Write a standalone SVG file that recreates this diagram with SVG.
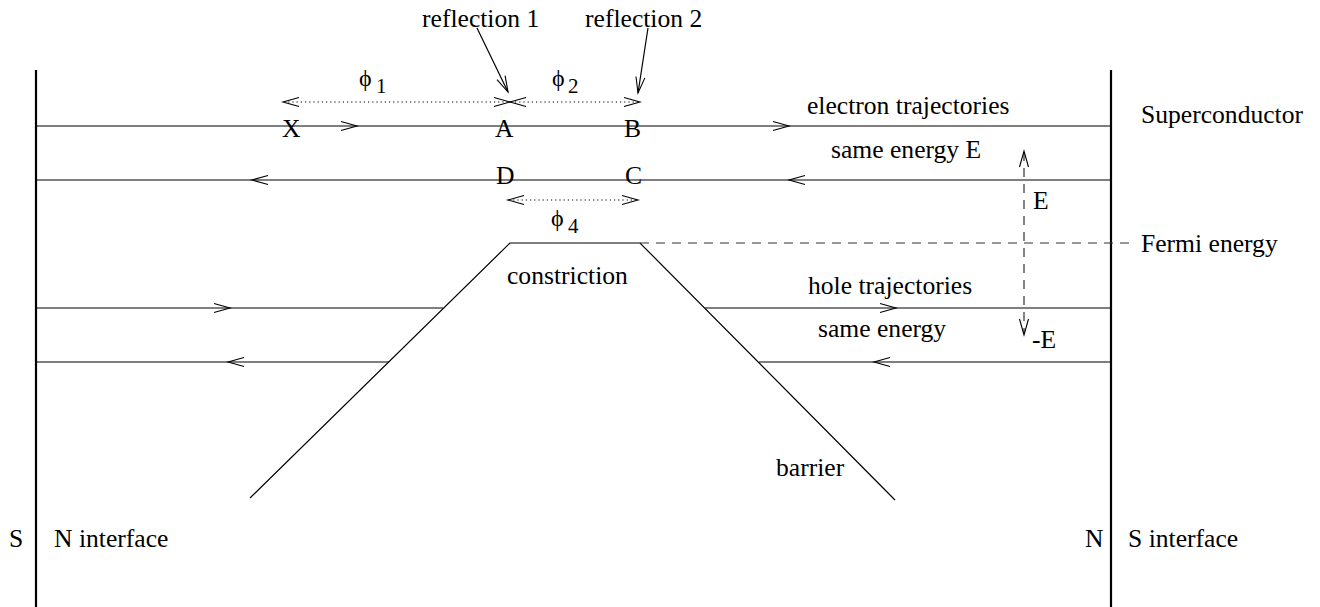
<svg xmlns="http://www.w3.org/2000/svg" xmlns:xlink="http://www.w3.org/1999/xlink" width="1320" height="607" viewBox="0 0 1320 607">
<style>
  text { font-family: "Liberation Serif", "Times New Roman", serif; font-size: 25.6px; fill: #000; }
  .sub { font-size: 21px; }
  .phi { font-size: 24px; }
  .ln { stroke: #000; stroke-width: 1.2; fill: none; }
  .border { stroke: #000; stroke-width: 2.2; fill: none; }
  .dash { stroke: #333; stroke-width: 1.2; fill: none; stroke-dasharray: 9 7; }
  .dot { stroke: #000; stroke-width: 1.2; fill: none; stroke-dasharray: 1.2 3; }
  .ah { stroke: #000; stroke-width: 1.1; fill: none; }
</style>
<defs>
  <path id="ah" d="M-16,-4.5 L0,0 L-16,4.5" class="ah"/>
</defs>
<rect width="1320" height="607" fill="#fff"/>

<g id="borders">
  <line class="border" x1="36" y1="70" x2="36" y2="607"/>
  <line class="border" x1="1111" y1="70" x2="1111" y2="607"/>
</g>

<g id="barrier-shape">
  <polyline class="ln" points="250,498 510,243 640,243 895,500"/>
</g>

<g id="connectors">
  <!-- electron trajectories -->
  <line class="ln" x1="36" y1="126" x2="1111" y2="126"/>
  <use xlink:href="#ah" transform="translate(357,126)"/>
  <use xlink:href="#ah" transform="translate(789,126)"/>
  <line class="ln" x1="36" y1="180" x2="1111" y2="180"/>
  <use xlink:href="#ah" transform="translate(252,180) rotate(180)"/>
  <use xlink:href="#ah" transform="translate(789,180) rotate(180)"/>
  <!-- hole trajectories -->
  <line class="ln" x1="36" y1="308" x2="443" y2="308"/>
  <use xlink:href="#ah" transform="translate(230,308)"/>
  <line class="ln" x1="705" y1="308" x2="1111" y2="308"/>
  <use xlink:href="#ah" transform="translate(896,308)"/>
  <line class="ln" x1="36" y1="362" x2="389" y2="362"/>
  <use xlink:href="#ah" transform="translate(228,362) rotate(180)"/>
  <line class="ln" x1="759" y1="362" x2="1111" y2="362"/>
  <use xlink:href="#ah" transform="translate(874,362) rotate(180)"/>
  <!-- Fermi energy dashed -->
  <line class="dash" x1="640" y1="243" x2="1130" y2="243"/>
  <!-- E arrow -->
  <line class="dash" x1="1024" y1="152" x2="1024" y2="334"/>
  <use xlink:href="#ah" transform="translate(1024,151) rotate(-90)"/>
  <use xlink:href="#ah" transform="translate(1024,335) rotate(90)"/>
  <!-- phase dotted arrows -->
  <line class="dot" x1="284" y1="102" x2="639" y2="102"/>
  <use xlink:href="#ah" transform="translate(283,102) rotate(180)"/>
  <use xlink:href="#ah" transform="translate(510,102)"/>
  <use xlink:href="#ah" transform="translate(510,102) rotate(180)"/>
  <use xlink:href="#ah" transform="translate(640,102)"/>
  <line class="dot" x1="509" y1="200" x2="637" y2="200"/>
  <use xlink:href="#ah" transform="translate(508,200) rotate(180)"/>
  <use xlink:href="#ah" transform="translate(638,200)"/>
  <!-- reflection pointers -->
  <line class="ln" x1="477" y1="28" x2="508" y2="92"/>
  <use xlink:href="#ah" transform="translate(508,92) rotate(64.2)"/>
  <line class="ln" x1="648" y1="28" x2="638" y2="93"/>
  <use xlink:href="#ah" transform="translate(638,93) rotate(98.7)"/>
</g>

<g id="label-reflection1"><text x="422" y="27">reflection 1</text></g>
<g id="label-reflection2"><text x="585" y="27">reflection 2</text></g>
<g id="label-phi1"><text class="phi" x="359" y="86">ϕ</text><text class="sub" x="376" y="93">1</text></g>
<g id="label-phi2"><text class="phi" x="552" y="86">ϕ</text><text class="sub" x="568" y="93">2</text></g>
<g id="label-phi4"><text class="phi" x="551" y="226">ϕ</text><text class="sub" x="568" y="233">4</text></g>
<g id="label-X"><text x="282" y="137">X</text></g>
<g id="label-A"><text x="495" y="137">A</text></g>
<g id="label-B"><text x="624" y="137">B</text></g>
<g id="label-D"><text x="496" y="184">D</text></g>
<g id="label-C"><text x="625" y="184">C</text></g>
<g id="label-electron"><text x="807" y="114">electron trajectories</text></g>
<g id="label-same-energy-E"><text x="831" y="158">same energy E</text></g>
<g id="label-superconductor"><text x="1141" y="123">Superconductor</text></g>
<g id="label-E"><text x="1033" y="209">E</text></g>
<g id="label-fermi"><text x="1141" y="252">Fermi energy</text></g>
<g id="label-constriction"><text x="507" y="284">constriction</text></g>
<g id="label-hole"><text x="808" y="294">hole trajectories</text></g>
<g id="label-same-energy"><text x="818" y="337">same energy</text></g>
<g id="label-minusE"><text x="1032" y="348">-E</text></g>
<g id="label-barrier"><text x="776" y="476">barrier</text></g>
<g id="label-SN-left"><text x="9" y="547">S</text><text x="54" y="547">N interface</text></g>
<g id="label-NS-right"><text x="1085" y="547">N</text><text x="1128" y="547">S interface</text></g>
</svg>
